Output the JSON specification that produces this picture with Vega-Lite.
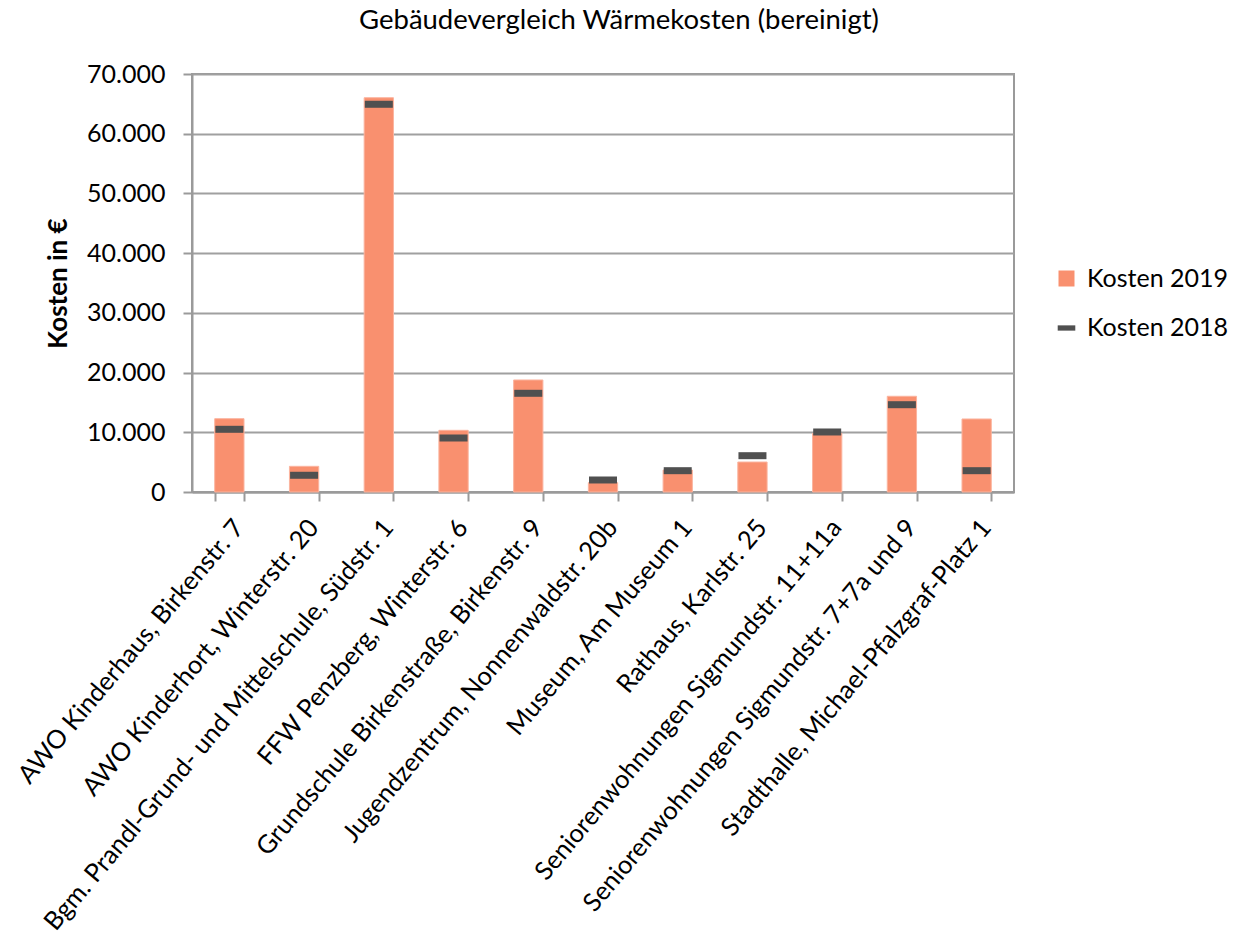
{
  "$schema": "https://vega.github.io/schema/vega-lite/v6.json",
  "autosize": "none",
  "width": 822,
  "height": 418,
  "padding": {"left": 192, "top": 74, "right": 225, "bottom": 448},
  "background": "white",
  "title": {
    "text": "Gebäudevergleich Wärmekosten (bereinigt)",
    "font": "Lato",
    "fontSize": 27.5,
    "fontWeight": "normal",
    "color": "#000000",
    "anchor": "middle",
    "dx": 16,
    "offset": 28
  },
  "data": {
    "values": [
      {"Gebaeude": "AWO Kinderhaus, Birkenstr. 7", "Kosten2019": 12280, "Kosten2018": 10500},
      {"Gebaeude": "AWO Kinderhort, Winterstr. 20", "Kosten2019": 4300, "Kosten2018": 2800},
      {"Gebaeude": "Bgm. Prandl-Grund- und Mittelschule, Südstr. 1", "Kosten2019": 66030, "Kosten2018": 64930},
      {"Gebaeude": "FFW Penzberg, Winterstr. 6", "Kosten2019": 10330, "Kosten2018": 9040},
      {"Gebaeude": "Grundschule Birkenstraße, Birkenstr. 9", "Kosten2019": 18760, "Kosten2018": 16530},
      {"Gebaeude": "Jugendzentrum, Nonnenwaldstr. 20b", "Kosten2019": 1560, "Kosten2018": 2010},
      {"Gebaeude": "Museum, Am Museum 1", "Kosten2019": 3680, "Kosten2018": 3570},
      {"Gebaeude": "Rathaus, Karlstr. 25", "Kosten2019": 5020, "Kosten2018": 6080},
      {"Gebaeude": "Seniorenwohnungen Sigmundstr. 11+11a", "Kosten2019": 9830, "Kosten2018": 10050},
      {"Gebaeude": "Seniorenwohnungen Sigmundstr. 7+7a und 9", "Kosten2019": 16030, "Kosten2018": 14620},
      {"Gebaeude": "Stadthalle, Michael-Pfalzgraf-Platz 1", "Kosten2019": 12230, "Kosten2018": 3570}
    ]
  },
  "encoding": {
    "x": {
      "field": "Gebaeude",
      "type": "nominal",
      "sort": null,
      "scale": {"paddingInner": 0.608, "paddingOuter": 0.304},
      "axis": {
        "title": null,
        "labelAngle": -50,
        "labelAlign": "right",
        "labelBaseline": "top",
        "labelFont": "Lato",
        "labelFontSize": 25.5,
        "labelColor": "#000000",
        "labelPadding": 14,
        "labelLimit": 700,
        "labelOverlap": false,
        "tickBand": "extent",
        "tickSize": 9,
        "tickColor": "#9a9a9a",
        "tickWidth": 2,
        "domainColor": "#9a9a9a",
        "domainWidth": 2,
        "grid": false
      }
    }
  },
  "layer": [
    {
      "mark": {"type": "bar", "stroke": "#FBB49F", "strokeWidth": 1},
      "encoding": {
        "y": {
          "field": "Kosten2019",
          "type": "quantitative",
          "scale": {"domain": [0, 70000], "nice": false},
          "axis": {
            "title": "Kosten in €",
            "titleFont": "Lato",
            "titleFontSize": 26,
            "titleFontWeight": "bold",
            "titleColor": "#000000",
            "titlePadding": 15,
            "values": [0, 10000, 20000, 30000, 40000, 50000, 60000, 70000],
            "labelExpr": "replace(format(datum.value, ','), ',', '.')",
            "labelFont": "Lato",
            "labelFontSize": 25,
            "labelColor": "#000000",
            "labelPadding": 18,
            "tickSize": 9,
            "tickColor": "#9a9a9a",
            "tickWidth": 2,
            "domainColor": "#9a9a9a",
            "domainWidth": 2,
            "grid": true,
            "gridColor": "#a0a0a0",
            "gridWidth": 2
          }
        },
        "color": {
          "datum": "Kosten 2019",
          "type": "nominal",
          "scale": {"domain": ["Kosten 2019"], "range": ["#F9906F"]},
          "legend": {
            "orient": "none",
            "legendX": 862,
            "legendY": 192,
            "title": null,
            "padding": 0,
            "labelFont": "Lato",
            "labelFontSize": 25,
            "labelColor": "#000000",
            "labelOffset": 8,
            "symbolType": "square",
            "symbolSize": 256,
            "symbolStrokeWidth": 0,
            "symbolOpacity": 1
          }
        }
      }
    },
    {
      "mark": {"type": "tick", "orient": "horizontal", "size": 28, "thickness": 7, "opacity": 1},
      "encoding": {
        "y": {"field": "Kosten2018", "type": "quantitative"},
        "color": {
          "datum": "Kosten 2018",
          "type": "nominal",
          "scale": {"domain": ["Kosten 2018"], "range": ["#505050"]},
          "legend": {
            "orient": "none",
            "legendX": 862,
            "legendY": 241.5,
            "title": null,
            "padding": 0,
            "labelFont": "Lato",
            "labelFontSize": 25,
            "labelColor": "#000000",
            "labelOffset": 8,
            "symbolType": "M-1.1,-0.33H1.1V0.33H-1.1Z",
            "symbolSize": 256,
            "symbolFillColor": "#505050",
            "symbolStrokeWidth": 0,
            "symbolOpacity": 1
          }
        }
      }
    }
  ],
  "resolve": {"scale": {"color": "independent"}, "legend": {"color": "independent"}},
  "config": {
    "font": "Lato",
    "view": {"stroke": "#9a9a9a", "strokeWidth": 2}
  }
}
